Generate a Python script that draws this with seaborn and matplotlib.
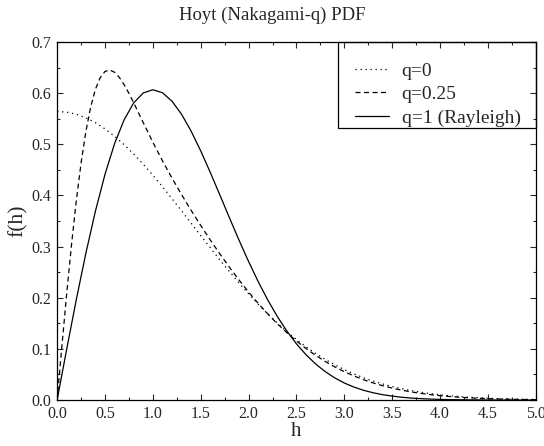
import numpy as np
import pandas as pd
import matplotlib
matplotlib.use("Agg")
import matplotlib.pyplot as plt
import seaborn as sns
from matplotlib.patches import Rectangle
from matplotlib.ticker import MultipleLocator, FormatStrFormatter

# -------------------------------
# Data
# -------------------------------
h_coarse = [round(0.1 * i, 1) for i in range(51)]

# q = 0 (one-sided Gaussian)
f_q0 = [0.5642, 0.5628, 0.5586, 0.5517, 0.5421, 0.5300, 0.5156, 0.4992, 0.4808, 0.4608,
        0.4394, 0.4169, 0.3936, 0.3698, 0.3456, 0.3215, 0.2975, 0.2739, 0.2510, 0.2288,
        0.2076, 0.1874, 0.1683, 0.1503, 0.1337, 0.1183, 0.1041, 0.0912, 0.0795, 0.0689,
        0.0595, 0.0511, 0.0436, 0.0371, 0.0314, 0.0264, 0.0221, 0.0184, 0.0153, 0.0126,
        0.0103, 0.0084, 0.0069, 0.0055, 0.0045, 0.0036, 0.0028, 0.0023, 0.0018, 0.0014,
        0.0011]

# q = 0.25 (finer spacing near the peak)
h_q025 = [0.0, 0.05, 0.1, 0.15, 0.2, 0.25, 0.3, 0.35, 0.4, 0.45, 0.5, 0.55, 0.6, 0.65,
          0.7, 0.75, 0.8, 0.85, 0.9, 1.0, 1.1, 1.2, 1.3, 1.4, 1.5, 1.6, 1.7, 1.8, 1.9,
          2.0, 2.1, 2.2, 2.3, 2.4, 2.5, 2.6, 2.7, 2.8, 2.9, 3.0, 3.1, 3.2, 3.3, 3.4,
          3.5, 3.6, 3.7, 3.8, 3.9, 4.0, 4.1, 4.2, 4.3, 4.4, 4.5, 4.6, 4.7, 4.8, 4.9, 5.0]
f_q025 = [0.0, 0.1057, 0.2078, 0.3031, 0.3889, 0.4631, 0.5245, 0.5725, 0.6074, 0.6302,
          0.6423, 0.6451, 0.6407, 0.6306, 0.6164, 0.5995, 0.5810, 0.5615, 0.5421, 0.5039,
          0.4677, 0.4337, 0.4015, 0.3707, 0.3412, 0.3128, 0.2856, 0.2595, 0.2346, 0.2111,
          0.1890, 0.1684, 0.1492, 0.1316, 0.1154, 0.1007, 0.0874, 0.0755, 0.0648, 0.0554,
          0.0471, 0.0398, 0.0335, 0.0280, 0.0233, 0.0193, 0.0159, 0.0130, 0.0106, 0.0086,
          0.0069, 0.0056, 0.0044, 0.0035, 0.0028, 0.0022, 0.0017, 0.0013, 0.0010, 0.0008]

# q = 1 (Rayleigh)
f_q1 = [0.0, 0.0995, 0.1960, 0.2868, 0.3692, 0.4412, 0.5012, 0.5478, 0.5809, 0.6003,
        0.6065, 0.6007, 0.5841, 0.5585, 0.5254, 0.4870, 0.4448, 0.4007, 0.3562, 0.3125,
        0.2707, 0.2316, 0.1956, 0.1633, 0.1348, 0.1098, 0.0885, 0.0705, 0.0556, 0.0433,
        0.0333, 0.0254, 0.0191, 0.0143, 0.0105, 0.0077, 0.0055, 0.0039, 0.0028, 0.0019,
        0.0013, 0.0009, 0.0006, 0.0004, 0.0003, 0.0002, 0.0001, 0.0001, 0.0, 0.0, 0.0]

labels = ["q=0", "q=0.25", "q=1 (Rayleigh)"]

# -------------------------------
# Style
# -------------------------------
sns.set_style("ticks")
plt.rcParams["font.family"] = ["Liberation Serif", "DejaVu Serif"]

fig = plt.figure(figsize=(5.44, 4.46), dpi=100)
ax = fig.add_axes([0.105, 0.103, 0.880, 0.803])

lw = 0.9
sns.lineplot(x=h_coarse, y=f_q0, ax=ax, color="black", linewidth=lw,
             linestyle=(0, (1, 3)), label=labels[0])
sns.lineplot(x=h_q025, y=f_q025, ax=ax, color="black", linewidth=lw,
             linestyle=(0, (4, 2.8)), label=labels[1])
sns.lineplot(x=h_coarse, y=f_q1, ax=ax, color="black", linewidth=lw,
             linestyle="-", label=labels[2])

ax.set_xlim(0, 5)
ax.set_ylim(0, 0.7)
ax.xaxis.set_major_locator(MultipleLocator(0.5))
ax.xaxis.set_minor_locator(MultipleLocator(0.25))
ax.yaxis.set_major_locator(MultipleLocator(0.1))
ax.yaxis.set_minor_locator(MultipleLocator(0.05))
ax.xaxis.set_major_formatter(FormatStrFormatter("%.1f"))
ax.yaxis.set_major_formatter(FormatStrFormatter("%.1f"))
ax.tick_params(which="both", direction="in", top=True, right=True,
               labelsize=11.5, width=0.8)
ax.tick_params(which="major", length=4, pad=4)
ax.tick_params(which="minor", length=2)
for s in ax.spines.values():
    s.set_linewidth(0.9)
    s.set_color("black")

ax.set_xlabel("h", fontsize=15, labelpad=0)
ax.set_ylabel("f(h)", fontsize=15.5, labelpad=3)
fig.text(0.5, 0.955, "Hoyt (Nakagami-q) PDF", fontsize=13.5, ha="center", va="baseline")

# legend entries without frame, frame box drawn separately
leg = ax.legend(loc="upper right", bbox_to_anchor=(0.968, 0.944), fontsize=14,
                frameon=False, borderaxespad=0, borderpad=0, handlelength=1.75,
                labelspacing=0.3, handletextpad=0.62)
ax.add_patch(Rectangle((0.5866, 0.760), 0.4134, 0.240, transform=ax.transAxes,
                       fill=False, edgecolor="black", linewidth=0.9, zorder=5,
                       clip_on=False))

fig.savefig("out.png", dpi=100)
